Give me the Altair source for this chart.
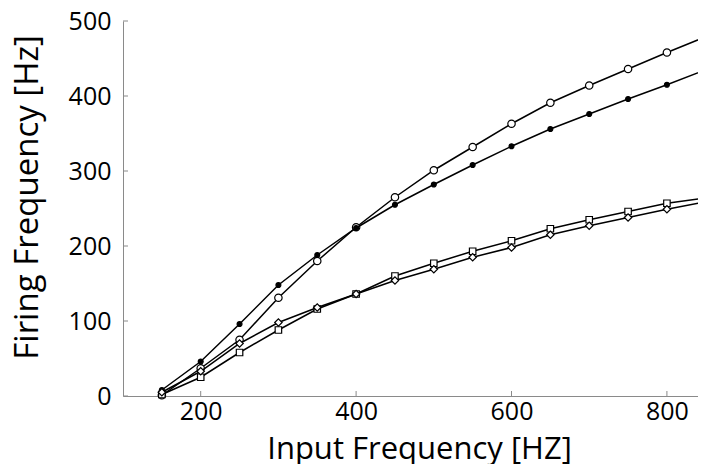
import altair as alt
import pandas as pd

# Input frequency (Hz)
x_vals = [150, 200, 250, 300, 350, 400, 450, 500, 550, 600, 650, 700, 750, 800, 850]
# Firing frequency (Hz) per series
circle_vals = [1, 37, 75, 131, 180, 225, 265, 301, 332, 363, 391, 414, 436, 458, 479]
star_vals = [8, 46, 96, 148, 188, 224, 255, 282, 308, 333, 356, 376, 396, 415, 435]
square_vals = [2, 25, 58, 88, 116, 136, 160, 177, 193, 207, 223, 235, 246, 257, 264]
diamond_vals = [5, 33, 70, 98, 118, 136, 154, 169, 185, 198, 215, 227, 238, 249, 259]
marker_max_x = 800

x_ticks = [200, 400, 600, 800]
y_ticks = [0, 100, 200, 300, 400, 500]

FONT = "Open Sans"
W, H = 575, 375

xscale = alt.Scale(domain=[100, 840], nice=False, zero=False)
yscale = alt.Scale(domain=[0, 500], nice=False)

xaxis = alt.Axis(values=x_ticks, ticks=False, grid=False, domainColor="#8a8a8a",
                 domainWidth=1, labelFont=FONT, labelFontSize=25, labelColor="black",
                 labelPadding=3, labelFlush=False, title="Input Frequency [HZ]",
                 titleFont=FONT, titleFontSize=31, titleFontWeight="normal",
                 titleColor="black", titleBaseline="alphabetic", titleY=62, titleX=296)
yaxis = alt.Axis(values=y_ticks, ticks=False, grid=False, domainColor="#8a8a8a",
                 domainWidth=1, labelFont=FONT, labelFontSize=25, labelColor="black",
                 labelPadding=12, labelFlush=False, title="Firing Frequency [Hz]",
                 titleFont=FONT, titleFontSize=33, titleFontWeight="normal",
                 titleColor="black", titleBaseline="alphabetic", titleX=-86, titleY=176)

series = [
    ("circle", circle_vals, "circle", False, 55),
    ("star", star_vals, "circle", True, 24),
    ("square", square_vals, "square", False, 42),
    ("diamond", diamond_vals, "diamond", False, 55),
]

layers = []
for name, vals, shape, filled, size in series:
    df = pd.DataFrame({"x": x_vals, "y": vals})
    enc_x = alt.X("x:Q", scale=xscale, axis=xaxis)
    enc_y = alt.Y("y:Q", scale=yscale, axis=yaxis)
    line = alt.Chart(df).mark_line(color="black", strokeWidth=1.5, clip=True).encode(x=enc_x, y=enc_y)
    pts = alt.Chart(df).transform_filter(alt.datum.x <= marker_max_x).mark_point(
        shape=shape, size=size, filled=filled, color="black",
        fill="black" if filled else "white", fillOpacity=1,
        stroke="black", strokeWidth=1.2, opacity=1).encode(x=enc_x, y=enc_y)
    layers += [line, pts]

xt = alt.Chart(pd.DataFrame({"x": x_ticks})).mark_rule(color="#8a8a8a", strokeWidth=1).encode(
    x=alt.X("x:Q", scale=xscale, axis=xaxis), y=alt.value(H), y2=alt.value(H - 5))
yt = alt.Chart(pd.DataFrame({"y": y_ticks})).mark_rule(color="#8a8a8a", strokeWidth=1).encode(
    y=alt.Y("y:Q", scale=yscale, axis=yaxis), x=alt.value(0), x2=alt.value(5))

chart = alt.layer(xt, yt, *layers).properties(
    width=W, height=H,
    autosize=alt.AutoSizeParams(type="none"),
    padding={"left": 115, "top": 13, "right": 0, "bottom": 68},
    background="white",
).configure_view(stroke=None)

chart.save("out.html", embed_options={"renderer": "svg", "actions": False})
